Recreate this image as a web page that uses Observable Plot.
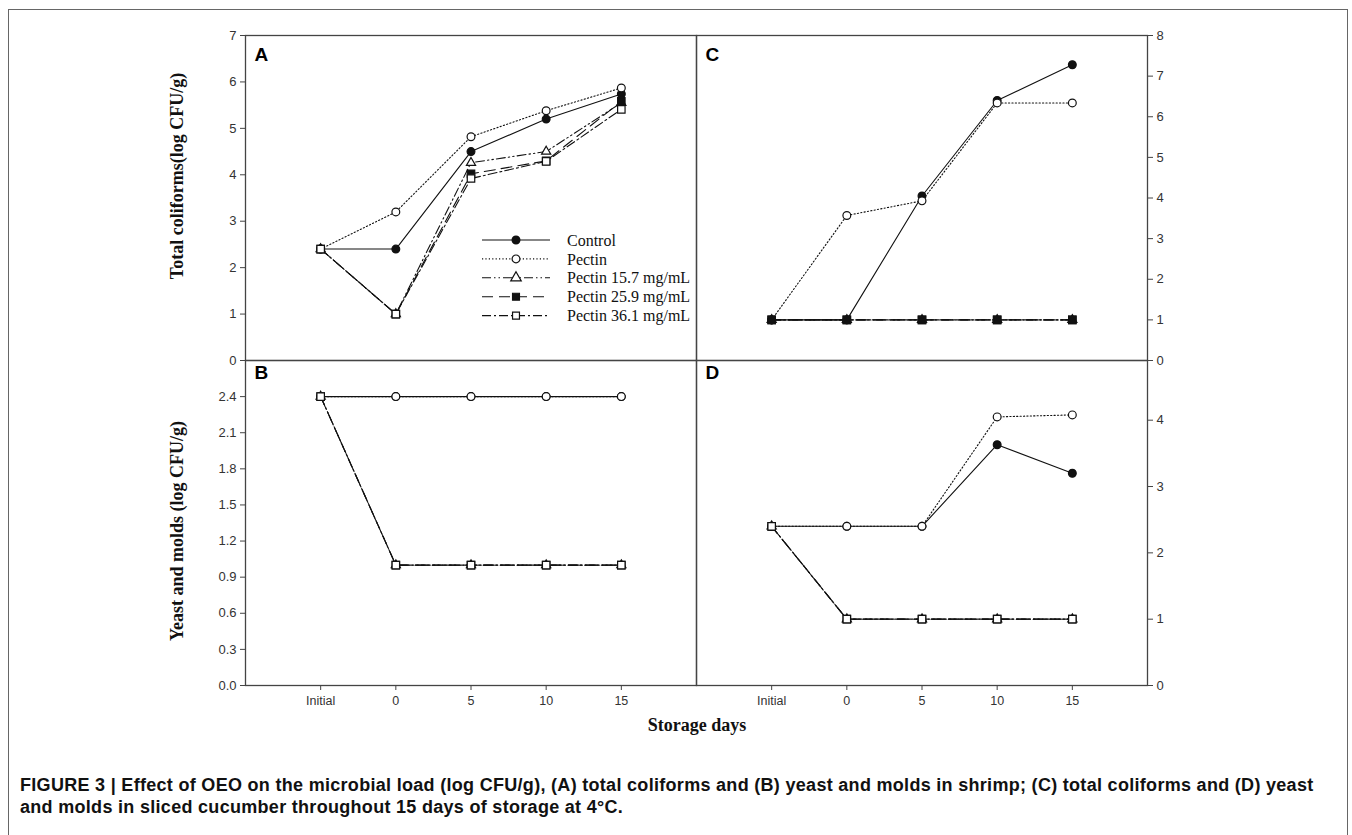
<!DOCTYPE html>
<html>
<head>
<meta charset="utf-8">
<script src="https://cdn.jsdelivr.net/npm/d3@7"></script>
<script src="https://cdn.jsdelivr.net/npm/@observablehq/plot@0.6"></script>
<style>
  html, body { margin: 0; padding: 0; background: #fff; overflow: hidden; }
  #root { position: relative; width: 1352px; height: 835px; overflow: hidden; }
  #border { position: absolute; left: 8px; top: 9px; width: 1340px; height: 860px; border: 1.5px solid #666; box-sizing: border-box; }
  .panel { position: absolute; }
  .panel svg { overflow: visible; }
  #overlay { position: absolute; left: 0; top: 0; }
  #caption { position: absolute; left: 20px; top: 774px; font-family: "Liberation Sans", Arial, sans-serif; font-weight: bold; font-size: 18px; letter-spacing: 0.3px; line-height: 22px; color: #111; white-space: nowrap; }
</style>
</head>
<body>
<div id="root">
  <div id="border"></div>
  <div id="caption">FIGURE 3 | Effect of OEO on the microbial load (log CFU/g), (A) total coliforms and (B) yeast and molds in shrimp; (C) total coliforms and (D) yeast<br>and molds in sliced cucumber throughout 15 days of storage at 4°C.</div>
</div>
<script>
// ---------- data ----------
const xLabels = ["Initial", "0", "5", "10", "15"];
const seriesNames = ["Control", "Pectin", "Pectin 15.7 mg/mL", "Pectin 25.9 mg/mL", "Pectin 36.1 mg/mL"];

// (A) total coliforms in shrimp
const coliShrimpControl = [2.4, 2.4, 4.5, 5.2, 5.74];
const coliShrimpPectin  = [2.4, 3.2, 4.82, 5.38, 5.87];
const coliShrimpP157    = [2.4, 1.0, 4.26, 4.5, 5.55];
const coliShrimpP259    = [2.4, 1.0, 4.02, 4.3, 5.58];
const coliShrimpP361    = [2.4, 1.0, 3.92, 4.29, 5.41];

// (B) yeast and molds in shrimp
const yeastShrimpControl = [2.4, 2.4, 2.4, 2.4, 2.4];
const yeastShrimpPectin  = [2.4, 2.4, 2.4, 2.4, 2.4];
const yeastShrimpP157    = [2.4, 1.0, 1.0, 1.0, 1.0];
const yeastShrimpP259    = [2.4, 1.0, 1.0, 1.0, 1.0];
const yeastShrimpP361    = [2.4, 1.0, 1.0, 1.0, 1.0];

// (C) total coliforms in sliced cucumber
const coliCucControl = [1.0, 1.0, 4.05, 6.4, 7.28];
const coliCucPectin  = [1.0, 3.57, 3.93, 6.34, 6.34];
const coliCucP157    = [1.0, 1.0, 1.0, 1.0, 1.0];
const coliCucP259    = [1.0, 1.0, 1.0, 1.0, 1.0];
const coliCucP361    = [1.0, 1.0, 1.0, 1.0, 1.0];

// (D) yeast and molds in sliced cucumber
const yeastCucControl = [2.4, 2.4, 2.4, 3.63, 3.2];
const yeastCucPectin  = [2.4, 2.4, 2.4, 4.05, 4.08];
const yeastCucP157    = [2.4, 1.0, 1.0, 1.0, 1.0];
const yeastCucP259    = [2.4, 1.0, 1.0, 1.0, 1.0];
const yeastCucP361    = [2.4, 1.0, 1.0, 1.0, 1.0];

// axis ticks
const ticksA = [0, 1, 2, 3, 4, 5, 6, 7];
const ticksB = [0, 0.3, 0.6, 0.9, 1.2, 1.5, 1.8, 2.1, 2.4];
const ticksC = [0, 1, 2, 3, 4, 5, 6, 7, 8];
const ticksD = [0, 1, 2, 3, 4];

// ---------- styles ----------
const dashes = [null, "1.2,2.2", "9,3,1.5,3,1.5,3", "11,6", "9,3,2,3"];
const symbols = ["circle", "circle", "triangle", "square", "square"];
const fills = ["#111", "white", "white", "#111", "white"];
const radii = [3.9, 3.9, 3.4, 4.2, 4.2];
const INK = "#111";
const AXIS = "#444";

const PW = 451, PH = 325;
const ML = 60, MR = 60, MT = 20, MB = 60;

function toRows(seriesArrays) {
  const rows = [];
  seriesArrays.forEach((vals, s) => vals.forEach((v, i) => rows.push({s, x: i, y: v})));
  return rows;
}

function panel({series, order, yDomain, yTicks, yFormat, side, showX, letter, letterDy, left, top}) {
  const rows = toRows(series);
  const marks = [];
  marks.push(Plot.frame({stroke: AXIS, strokeWidth: 1.3}));
  marks.push(Plot.axisY(yTicks, {
    anchor: side, tickSize: 5, tickPadding: 4, tickFormat: yFormat, label: null,
    stroke: AXIS, fill: "#333", fontSize: 13
  }));
  if (showX) {
    marks.push(Plot.axisX([0, 1, 2, 3, 4], {
      anchor: "bottom", tickSize: 5, tickPadding: 6, tickFormat: i => xLabels[i], label: null,
      stroke: AXIS, fill: "#333", fontSize: 12.5
    }));
  }
  for (const s of order) {
    const d = rows.filter(r => r.s === s);
    marks.push(Plot.line(d, {x: "x", y: "y", stroke: INK, strokeWidth: 1.1, strokeDasharray: dashes[s]}));
    marks.push(Plot.dot(d, {x: "x", y: "y", symbol: symbols[s], r: radii[s], fill: fills[s], stroke: INK, strokeWidth: 1.2}));
  }
  marks.push(Plot.text([letter], {
    text: d => d, frameAnchor: "top-left", dx: 9, dy: letterDy, fontSize: 19, fontWeight: "bold",
    fontFamily: "Liberation Sans, Arial, sans-serif", fill: "#000", lineAnchor: "top"
  }));
  const chart = Plot.plot({
    width: PW + ML + MR, height: PH + MT + MB,
    marginLeft: ML, marginRight: MR, marginTop: MT, marginBottom: MB,
    x: {domain: [-1, 5], axis: null},
    y: {domain: yDomain, axis: null},
    style: {fontFamily: "Liberation Sans, Arial, sans-serif", fontSize: "13px", background: "transparent", color: "#333"},
    marks
  });
  const div = document.createElement("div");
  div.className = "panel";
  div.style.left = (left - ML) + "px";
  div.style.top = (top - MT) + "px";
  div.appendChild(chart);
  document.getElementById("root").appendChild(div);
}

const X0 = 245, X1 = 696, Y0 = 35, Y1 = 360;
const f1 = d3.format(".1f");
const fi = d3.format("d");

panel({series: [coliShrimpControl, coliShrimpPectin, coliShrimpP157, coliShrimpP259, coliShrimpP361],
  order: [0, 1, 2, 3, 4], yDomain: [0, 7], yTicks: ticksA, yFormat: fi, side: "left", showX: false,
  letter: "A", letterDy: 12, left: X0, top: Y0});
panel({series: [yeastShrimpControl, yeastShrimpPectin, yeastShrimpP157, yeastShrimpP259, yeastShrimpP361],
  order: [0, 1, 2, 3, 4], yDomain: [0, 2.7], yTicks: ticksB, yFormat: f1, side: "left", showX: true,
  letter: "B", letterDy: 5, left: X0, top: Y1});
panel({series: [coliCucControl, coliCucPectin, coliCucP157, coliCucP259, coliCucP361],
  order: [0, 1, 2, 4, 3], yDomain: [0, 8], yTicks: ticksC, yFormat: fi, side: "right", showX: false,
  letter: "C", letterDy: 12, left: X1, top: Y0});
panel({series: [yeastCucControl, yeastCucPectin, yeastCucP157, yeastCucP259, yeastCucP361],
  order: [0, 1, 2, 3, 4], yDomain: [0, 4.9], yTicks: ticksD, yFormat: fi, side: "right", showX: true,
  letter: "D", letterDy: 5, left: X1, top: Y1});

// ---------- overlay: axis titles and legend ----------
const svg = d3.select("#root").append("svg")
  .attr("id", "overlay").attr("width", 1352).attr("height", 835)
  .style("pointer-events", "none");

const serif = "'Liberation Serif', 'Times New Roman', serif";
svg.append("text").attr("transform", "translate(183,176) rotate(-90)")
  .attr("text-anchor", "middle").attr("font-family", serif).attr("font-weight", "bold")
  .attr("font-size", 18).attr("fill", "#111").text("Total coliforms(log CFU/g)");
svg.append("text").attr("transform", "translate(183,531) rotate(-90)")
  .attr("text-anchor", "middle").attr("font-family", serif).attr("font-weight", "bold")
  .attr("font-size", 18).attr("fill", "#111").text("Yeast and molds (log CFU/g)");
svg.append("text").attr("x", 697).attr("y", 731)
  .attr("text-anchor", "middle").attr("font-family", serif).attr("font-weight", "bold")
  .attr("font-size", 18).attr("fill", "#111").text("Storage days");

// legend
const lg = svg.append("g").attr("transform", "translate(482,240)");
seriesNames.forEach((name, s) => {
  const y = s * 18.9;
  const g = lg.append("g").attr("transform", `translate(0,${y})`);
  g.append("line").attr("x1", 0).attr("x2", 68).attr("y1", 0).attr("y2", 0)
    .attr("stroke", INK).attr("stroke-width", 1.1).attr("stroke-dasharray", dashes[s]);
  const sym = d3.symbol().type(symbols[s] === "circle" ? d3.symbolCircle : symbols[s] === "square" ? d3.symbolSquare : d3.symbolTriangle)
    .size(Math.PI * 3.9 * 3.9)();
  g.append("path").attr("d", sym).attr("transform", "translate(34,0)")
    .attr("fill", fills[s]).attr("stroke", INK).attr("stroke-width", 1.2);
  g.append("text").attr("x", 85).attr("y", 0).attr("dy", "0.35em")
    .attr("font-family", serif).attr("font-size", 16).attr("fill", "#111").text(name);
});
</script>
</body>
</html>
